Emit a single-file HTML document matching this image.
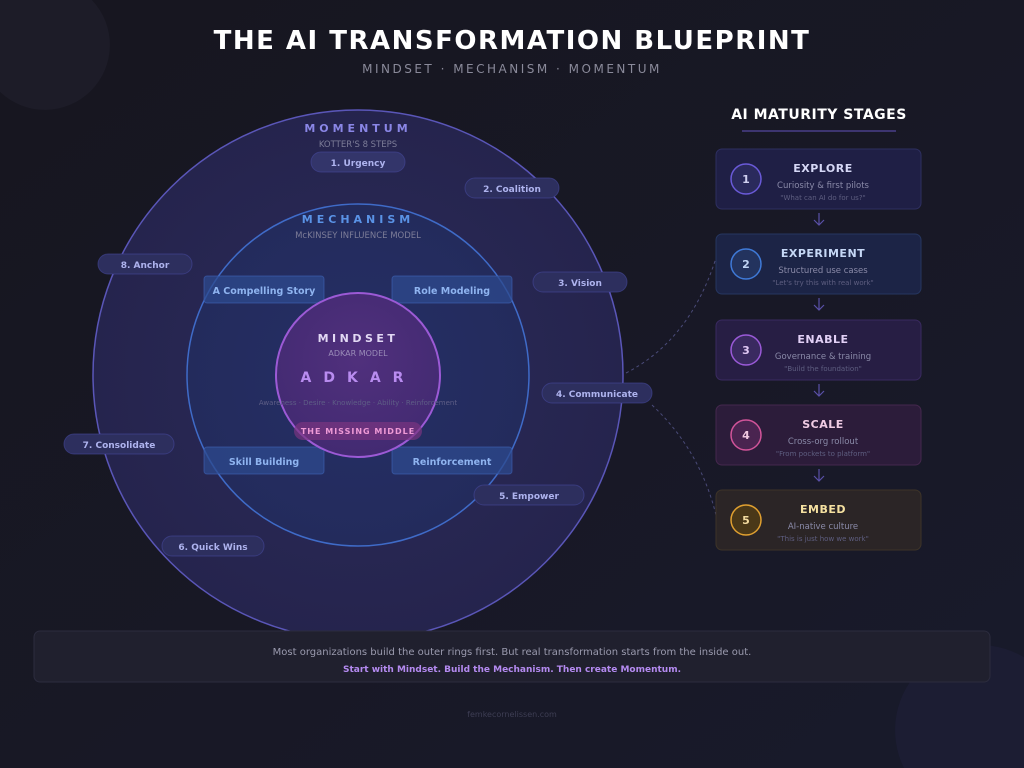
<!DOCTYPE html>
<html><head><meta charset="utf-8"><style>
html,body{margin:0;padding:0;background:#15141f;width:1024px;height:768px;overflow:hidden;}
svg{display:block;font-family:"DejaVu Sans","Liberation Sans",sans-serif;}
</style></head><body>
<svg width="1024" height="768" viewBox="0 0 1024 768" xmlns="http://www.w3.org/2000/svg">
<defs>
<linearGradient id="bg" x1="0" y1="0" x2="1" y2="1"><stop offset="0" stop-color="#17161f"/><stop offset="1" stop-color="#181a2b"/></linearGradient>
<radialGradient id="g1" cx="0.5" cy="0.5" r="0.5"><stop offset="0" stop-color="#2b2a5a"/><stop offset="1" stop-color="#25244d"/></radialGradient>
<radialGradient id="g2" cx="0.5" cy="0.5" r="0.5"><stop offset="0" stop-color="#262f66"/><stop offset="1" stop-color="#232b5c"/></radialGradient>
<radialGradient id="g3" cx="0.5" cy="0.4" r="0.6"><stop offset="0" stop-color="#54307f"/><stop offset="1" stop-color="#452a73"/></radialGradient>
</defs>
<rect width="1024" height="768" fill="url(#bg)"/>
<path d="M0 0 L91.9 0 A65 65 0 0 1 0 91.9 Z" fill="#1d1c28"/>
<path d="M1024 657.3 A85 85 0 0 0 904 768 L1024 768 Z" fill="#1c1d33"/>
<text x="512" y="49" text-anchor="middle" font-size="26" font-weight="bold" fill="#ffffff" letter-spacing="1.5">THE AI TRANSFORMATION BLUEPRINT</text>
<text x="512" y="73" text-anchor="middle" font-size="12" fill="#8a8a9a" letter-spacing="2.5">MINDSET · MECHANISM · MOMENTUM</text>

<circle cx="358" cy="375" r="265" fill="url(#g1)" stroke="#5a56b8" stroke-width="1.5"/>
<circle cx="358" cy="375" r="171" fill="url(#g2)" stroke="#3f6bc8" stroke-width="1.5"/>
<text x="358" y="132" text-anchor="middle" font-size="11" font-weight="bold" fill="#8a86e6" letter-spacing="4">MOMENTUM</text>
<text x="358" y="147" text-anchor="middle" font-size="8.5" fill="#7d7d98">KOTTER'S 8 STEPS</text>
<text x="358" y="223" text-anchor="middle" font-size="11" font-weight="bold" fill="#5a93e6" letter-spacing="4">MECHANISM</text>
<text x="358" y="238" text-anchor="middle" font-size="8.5" fill="#7d7d98">McKINSEY INFLUENCE MODEL</text>

<g font-size="9" font-weight="bold" fill="#aeb3ee" text-anchor="middle">
<rect x="311" y="152" width="94" height="20" rx="10" fill="#33356a" stroke="#45479a" stroke-opacity=".6"/><text x="358" y="166">1. Urgency</text>
<rect x="465" y="178" width="94" height="20" rx="10" fill="#2d2f5e" stroke="#45479a" stroke-opacity=".6"/><text x="512" y="192">2. Coalition</text>
<rect x="533" y="272" width="94" height="20" rx="10" fill="#2d2f5e" stroke="#45479a" stroke-opacity=".6"/><text x="580" y="286">3. Vision</text>
<rect x="542" y="383" width="110" height="20" rx="10" fill="#2d2f5e" stroke="#45479a" stroke-opacity=".6"/><text x="597" y="397">4. Communicate</text>
<rect x="474" y="485" width="110" height="20" rx="10" fill="#2d2f5e" stroke="#45479a" stroke-opacity=".6"/><text x="529" y="499">5. Empower</text>
<rect x="162" y="536" width="102" height="20" rx="10" fill="#2d2f5e" stroke="#45479a" stroke-opacity=".6"/><text x="213" y="550">6. Quick Wins</text>
<rect x="64" y="434" width="110" height="20" rx="10" fill="#2d2f5e" stroke="#45479a" stroke-opacity=".6"/><text x="119" y="448">7. Consolidate</text>
<rect x="98" y="254" width="94" height="20" rx="10" fill="#2d2f5e" stroke="#45479a" stroke-opacity=".6"/><text x="145" y="268">8. Anchor</text>
</g>

<g font-size="9.5" font-weight="bold" fill="#8fb4f0" text-anchor="middle">
<rect x="204" y="276" width="120" height="27" rx="3" fill="#2e4a8e" fill-opacity=".75" stroke="#3f64b8" stroke-opacity=".6"/><text x="264" y="294">A Compelling Story</text>
<rect x="392" y="276" width="120" height="27" rx="3" fill="#2e4a8e" fill-opacity=".75" stroke="#3f64b8" stroke-opacity=".6"/><text x="452" y="294">Role Modeling</text>
<rect x="204" y="447" width="120" height="27" rx="3" fill="#2e4a8e" fill-opacity=".75" stroke="#3f64b8" stroke-opacity=".6"/><text x="264" y="465">Skill Building</text>
<rect x="392" y="447" width="120" height="27" rx="3" fill="#2e4a8e" fill-opacity=".75" stroke="#3f64b8" stroke-opacity=".6"/><text x="452" y="465">Reinforcement</text>
</g>

<circle cx="358" cy="375" r="82" fill="url(#g3)" fill-opacity=".92" stroke="#9c5ad6" stroke-width="2"/>
<text x="358" y="342" text-anchor="middle" font-size="11" font-weight="bold" fill="#e2d8f4" letter-spacing="3.5">MINDSET</text>
<text x="358" y="356" text-anchor="middle" font-size="8" fill="#9a8cb8">ADKAR MODEL</text>
<text x="358" y="382" text-anchor="middle" font-size="14" font-weight="bold" fill="#b98cf0" letter-spacing="12">ADKAR</text>
<text x="358" y="405" text-anchor="middle" font-size="7" fill="#5e5e86">Awareness · Desire · Knowledge · Ability · Reinforcement</text>
<rect x="294" y="422" width="128" height="18" rx="9" fill="#7a3580" fill-opacity=".7"/>
<text x="358" y="434" text-anchor="middle" font-size="8" font-weight="bold" fill="#ef9ad6" letter-spacing="1">THE MISSING MIDDLE</text>

<g fill="none" stroke="#4a4a78" stroke-dasharray="3,3" stroke-width="1">
<path d="M626 373 Q690 340 716 258"/>
<path d="M652 405 Q700 450 716 515"/>
</g>

<text x="819" y="119" text-anchor="middle" font-size="14" font-weight="bold" fill="#ffffff" letter-spacing="0.5">AI MATURITY STAGES</text>
<line x1="742" y1="131" x2="896" y2="131" stroke="#4a3f8a" stroke-width="1.5"/>

<g text-anchor="middle">
<rect x="716" y="149" width="205" height="60" rx="6" fill="#1f1f45" stroke="#2e2f60"/>
<circle cx="746" cy="179" r="15" fill="#2a2a5c" stroke="#6a5ad8" stroke-width="1.5"/><text x="746" y="183" font-size="11" font-weight="bold" fill="#d0d0f0">1</text>
<text x="823" y="172" font-size="11" font-weight="bold" fill="#d6d8f6" letter-spacing="0.5">EXPLORE</text>
<text x="823" y="188" font-size="8.5" fill="#8a8aa8">Curiosity &amp; first pilots</text>
<text x="823" y="200" font-size="7" fill="#5e5e80">"What can AI do for us?"</text>

<rect x="716" y="234" width="205" height="60" rx="6" fill="#1c2446" stroke="#263660"/>
<circle cx="746" cy="264" r="15" fill="#23335e" stroke="#3f7ad8" stroke-width="1.5"/><text x="746" y="268" font-size="11" font-weight="bold" fill="#c0d4f4">2</text>
<text x="823" y="257" font-size="11" font-weight="bold" fill="#c6d8f6" letter-spacing="0.5">EXPERIMENT</text>
<text x="823" y="273" font-size="8.5" fill="#8a8aa8">Structured use cases</text>
<text x="823" y="285" font-size="7" fill="#5e5e80">"Let's try this with real work"</text>

<rect x="716" y="320" width="205" height="60" rx="6" fill="#271e44" stroke="#3a2a60"/>
<circle cx="746" cy="350" r="15" fill="#3a2a60" stroke="#9a5ad8" stroke-width="1.5"/><text x="746" y="354" font-size="11" font-weight="bold" fill="#e0c8f4">3</text>
<text x="823" y="343" font-size="11" font-weight="bold" fill="#e2d0f6" letter-spacing="0.5">ENABLE</text>
<text x="823" y="359" font-size="8.5" fill="#8a8aa8">Governance &amp; training</text>
<text x="823" y="371" font-size="7" fill="#5e5e80">"Build the foundation"</text>

<rect x="716" y="405" width="205" height="60" rx="6" fill="#2c1c3a" stroke="#45284e"/>
<circle cx="746" cy="435" r="15" fill="#4a2450" stroke="#d2549a" stroke-width="1.5"/><text x="746" y="439" font-size="11" font-weight="bold" fill="#f0c8e0">4</text>
<text x="823" y="428" font-size="11" font-weight="bold" fill="#f0cce4" letter-spacing="0.5">SCALE</text>
<text x="823" y="444" font-size="8.5" fill="#8a8aa8">Cross-org rollout</text>
<text x="823" y="456" font-size="7" fill="#5e5e80">"From pockets to platform"</text>

<rect x="716" y="490" width="205" height="60" rx="6" fill="#2b2526" stroke="#3e3428"/>
<circle cx="746" cy="520" r="15" fill="#4a3818" stroke="#e0a030" stroke-width="1.5"/><text x="746" y="524" font-size="11" font-weight="bold" fill="#f4dca0">5</text>
<text x="823" y="513" font-size="11" font-weight="bold" fill="#f4e0a0" letter-spacing="0.5">EMBED</text>
<text x="823" y="529" font-size="8.5" fill="#8a8aa8">AI-native culture</text>
<text x="823" y="541" font-size="7" fill="#5e5e80">"This is just how we work"</text>
</g>

<g stroke="#5a50a8" stroke-width="1.2" fill="none">
<path d="M819 213 v12 M814 220 l5 5 l5 -5"/>
<path d="M819 298 v12 M814 305 l5 5 l5 -5"/>
<path d="M819 384 v12 M814 391 l5 5 l5 -5"/>
<path d="M819 469 v12 M814 476 l5 5 l5 -5"/>
</g>

<rect x="34" y="631" width="956" height="51" rx="6" fill="#20202e" stroke="#2c2c3e"/>
<text x="512" y="655" text-anchor="middle" font-size="10" fill="#9a9aae">Most organizations build the outer rings first. But real transformation starts from the inside out.</text>
<text x="512" y="672" text-anchor="middle" font-size="9" font-weight="bold" fill="#b48af0">Start with Mindset. Build the Mechanism. Then create Momentum.</text>
<text x="512" y="717" text-anchor="middle" font-size="8" fill="#3e3e54">femkecornelissen.com</text>
</svg>
</body></html>
